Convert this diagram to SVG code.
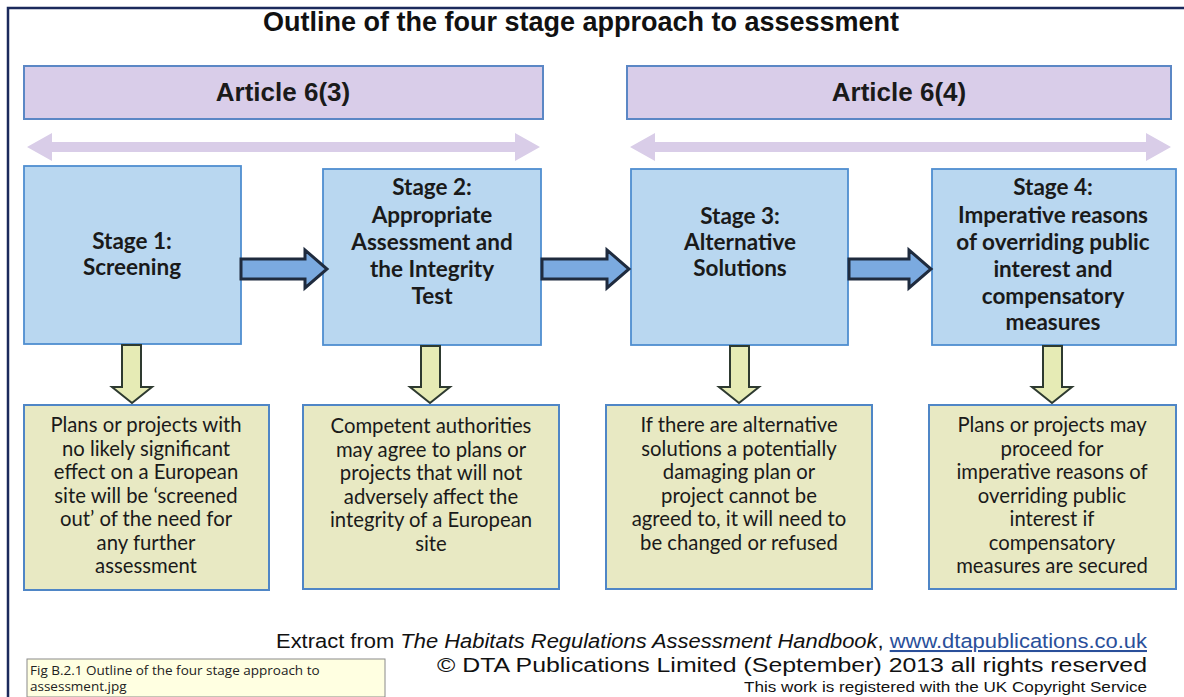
<svg xmlns="http://www.w3.org/2000/svg" width="1184" height="697" viewBox="0 0 1184 697">
<defs>
<style>
.frame{fill:none;stroke:#1b2a5c;stroke-width:2.5}
.art{fill:#d9cde9;stroke:#5b87c5;stroke-width:2}
.dbl{fill:#d9cde8;stroke:none}
.stage{fill:#b9d7f0;stroke:#4f8ed0;stroke-width:1.8}
.out{fill:#e8e9c3;stroke:#4f86c6;stroke-width:2}
.rarr{fill:#7baae0;stroke:#1f2b3e;stroke-width:3;stroke-linejoin:miter}
.darr{fill:#e6ebb5;stroke:#2e3a30;stroke-width:2}
.title{font-family:"Liberation Sans",Arial,sans-serif;font-weight:bold;font-size:27px;fill:#111;text-anchor:middle}
.arttxt{font-family:"Liberation Sans",Arial,sans-serif;font-weight:bold;font-size:26px;fill:#1a1a1a;text-anchor:middle}
.st{font-family:Lato,"Noto Sans",sans-serif;font-weight:bold;font-size:22.5px;fill:#1a1a1a;text-anchor:middle}
.bt{font-family:Lato,"Noto Sans",sans-serif;font-size:20.3px;fill:#1a1a1a;text-anchor:middle}
.foot{font-family:"Liberation Sans",Arial,sans-serif;fill:#111}
.lbl{fill:#ffffe1;stroke:#8a8a8a;stroke-width:1}
.lbltxt{font-family:"Open Sans","Noto Sans",sans-serif;font-size:13.5px;fill:#222}
</style>
</defs>
<rect width="1184" height="697" fill="#ffffff"/>
<path class="frame" d="M8,697 V8 H1184"/>
<text class="title" x="581" y="31">Outline of the four stage approach to assessment</text>

<g id="article63">
<rect class="art" x="24" y="66" width="519" height="53"/>
<text class="arttxt" x="283" y="101">Article 6(3)</text>
</g>
<g id="article64">
<rect class="art" x="627" y="66" width="544" height="53"/>
<text class="arttxt" x="899" y="101">Article 6(4)</text>
</g>

<g id="stage1">
<rect class="stage" x="24" y="166" width="217" height="178"/>
<text class="st" x="132" y="249">Stage 1:</text>
<text class="st" x="132" y="275">Screening</text>
</g>
<g id="stage2">
<rect class="stage" x="323" y="169" width="218" height="176"/>
<text class="st" x="432" y="195">Stage 2:</text>
<text class="st" x="432" y="223">Appropriate</text>
<text class="st" x="432" y="250">Assessment and</text>
<text class="st" x="432" y="277">the Integrity</text>
<text class="st" x="432" y="304">Test</text>
</g>
<g id="stage3">
<rect class="stage" x="631" y="169" width="217" height="176"/>
<text class="st" x="740" y="224">Stage 3:</text>
<text class="st" x="740" y="250">Alternative</text>
<text class="st" x="740" y="276">Solutions</text>
</g>
<g id="stage4">
<rect class="stage" x="932" y="169" width="244" height="176"/>
<text class="st" x="1053" y="195">Stage 4:</text>
<text class="st" x="1053" y="223">Imperative reasons</text>
<text class="st" x="1053" y="250">of overriding public</text>
<text class="st" x="1053" y="277">interest and</text>
<text class="st" x="1053" y="304">compensatory</text>
<text class="st" x="1053" y="330">measures</text>
</g>

<g id="outcome1">
<rect class="out" x="24" y="405" width="245" height="185"/>
<text class="bt" x="146" y="432">Plans or projects with</text>
<text class="bt" x="146" y="455.5">no likely significant</text>
<text class="bt" x="146" y="479">effect on a European</text>
<text class="bt" x="146" y="502.5">site will be ‘screened</text>
<text class="bt" x="146" y="526">out’ of the need for</text>
<text class="bt" x="146" y="549.5">any further</text>
<text class="bt" x="146" y="573">assessment</text>
</g>
<g id="outcome2">
<rect class="out" x="303" y="405" width="256" height="184"/>
<text class="bt" x="431" y="433">Competent authorities</text>
<text class="bt" x="431" y="456.5">may agree to plans or</text>
<text class="bt" x="431" y="480">projects that will not</text>
<text class="bt" x="431" y="503.5">adversely affect the</text>
<text class="bt" x="431" y="527">integrity of a European</text>
<text class="bt" x="431" y="550.5">site</text>
</g>
<g id="outcome3">
<rect class="out" x="606" y="405" width="266" height="184"/>
<text class="bt" x="739" y="432">If there are alternative</text>
<text class="bt" x="739" y="455.5">solutions a potentially</text>
<text class="bt" x="739" y="479">damaging plan or</text>
<text class="bt" x="739" y="502.5">project cannot be</text>
<text class="bt" x="739" y="526">agreed to, it will need to</text>
<text class="bt" x="739" y="549.5">be changed or refused</text>
</g>
<g id="outcome4">
<rect class="out" x="929" y="405" width="247" height="184"/>
<text class="bt" x="1052" y="432">Plans or projects may</text>
<text class="bt" x="1052" y="455.5">proceed for</text>
<text class="bt" x="1052" y="479">imperative reasons of</text>
<text class="bt" x="1052" y="502.5">overriding public</text>
<text class="bt" x="1052" y="526">interest if</text>
<text class="bt" x="1052" y="549.5">compensatory</text>
<text class="bt" x="1052" y="573">measures are secured</text>
</g>

<g id="connectors">
<path class="dbl" d="M27,147 L52,133 L52,142 L515,142 L515,133 L540,147 L515,161 L515,152 L52,152 L52,161 Z"/>
<path class="dbl" d="M630,147 L655,133 L655,142 L1146,142 L1146,133 L1171,147 L1146,161 L1146,152 L655,152 L655,161 Z"/>
<path class="rarr" d="M241,259 H305 V250 L327,269 L305,288 V279 H241 Z"/>
<path class="rarr" d="M542,259 H607 V250 L629,269 L607,288 V279 H542 Z"/>
<path class="rarr" d="M849,259 H909 V250 L931,269 L909,288 V279 H849 Z"/>
<path class="darr" d="M122,345 V387 H112 L132,403 L152,387 H141 V345 Z"/>
<path class="darr" d="M421,346 V387 H410 L430,403 L450,387 H440 V346 Z"/>
<path class="darr" d="M730,346 V387 H719 L739,403 L759,387 H749 V346 Z"/>
<path class="darr" d="M1043,346 V387 H1032 L1052,403 L1072,387 H1062 V346 Z"/>
</g>

<g id="footer">
<text class="foot" x="276" y="648" font-size="20.5" textLength="871" lengthAdjust="spacingAndGlyphs">Extract from <tspan font-style="italic">The Habitats Regulations Assessment Handbook</tspan>, <tspan fill="#2a4f9a" text-decoration="underline">www.dtapublications.co.uk</tspan></text>
<text class="foot" x="437" y="672" font-size="20.5" textLength="710" lengthAdjust="spacingAndGlyphs">© DTA Publications Limited (September) 2013 all rights reserved</text>
<text class="foot" x="744" y="692" font-size="15" textLength="403" lengthAdjust="spacingAndGlyphs">This work is registered with the UK Copyright Service</text>
</g>
<g id="figlabel">
<rect class="lbl" x="27" y="659" width="358" height="38"/>
<text class="lbltxt" x="30" y="675">Fig B.2.1 Outline of the four stage approach to</text>
<text class="lbltxt" x="30" y="691">assessment.jpg</text>
</g>
</svg>
